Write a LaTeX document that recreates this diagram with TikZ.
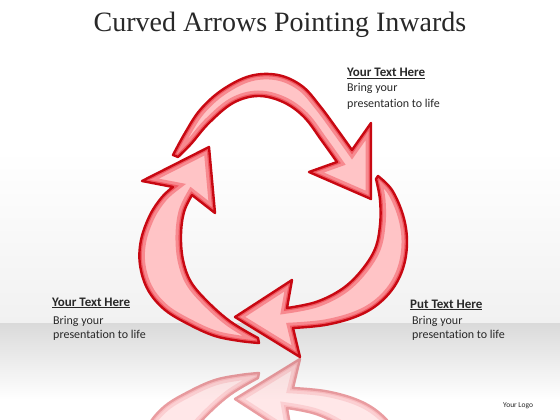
\documentclass[tikz,border=0pt]{standalone}
\usepackage{fontspec}
\setmainfont{Liberation Serif}
\newfontfamily\calfont[Ligatures={NoCommon}]{Carlito}
\definecolor{arrline}{RGB}{200,8,18}
\definecolor{arrfill}{RGB}{255,196,198}
\definecolor{arrglow}{RGB}{236,50,62}
\definecolor{txt}{RGB}{40,40,40}
\definecolor{floortop}{RGB}{218,218,218}
\definecolor{skybottom}{RGB}{241,241,241}
\tikzset{
  glowwide/.style={draw=arrglow, line width=11pt, opacity=0.4},
  glownarrow/.style={draw=arrglow, line width=5pt, opacity=0.55},
  arrborder/.style={draw=arrline, line width=2.4pt, line join=round},
  headtxt/.style={font=\calfont\bfseries\fontsize{13}{15}\selectfont, text=txt, anchor=base west, inner sep=0pt},
  bodytxt/.style={font=\calfont\fontsize{12}{14}\selectfont, text=txt, anchor=base west, inner sep=0pt},
}
\newcommand\redarrow[1]{%
  \begin{scope}
    \clip #1;
    \fill[arrfill] #1;
    \draw[glowwide] #1;
    \draw[glownarrow] #1;
  \end{scope}
  \draw[arrborder] #1;
}
\newcommand\allarrows{%
  \redarrow{plot[smooth, tension=0.6] coordinates {(173,155) (185,133) (200,110) (222,90) (250,76) (278,75) (302,86) (320,106) (337,129) (352,150)} -- (371,123) -- (371,199) -- (309,172) -- plot[smooth, tension=0.6] coordinates {(337,162) (322,141) (304,117) (283,102) (258,96) (233,103) (209,123) (191,144) (178,157)} -- cycle}
  \redarrow{plot[smooth, tension=0.6] coordinates {(378,176) (392,190) (403,215) (407,240) (404,265) (394,287) (377,305) (355,317) (325,325) (293,328)} -- (300,357) -- (235,317) -- (292,280) -- plot[smooth, tension=0.6] coordinates {(287,308) (316,302) (342,289) (361,271) (375,249) (380,225) (380,200) (376,179)} -- cycle}
  \redarrow{plot[smooth, tension=0.6] coordinates {(259,343) (240,341) (215,336) (190,325) (165,310) (148,290) (140,265) (141,240) (150,215) (162,197) (173,187)} -- (142,181) -- (209,147) -- (215,213) -- plot[smooth, tension=0.6] coordinates {(192,195) (184,212) (181,235) (183,260) (191,282) (208,302) (231,322) (258,338)} -- cycle}
}
\begin{document}
\begin{tikzpicture}[x=1pt, y=-1pt]
  \useasboundingbox (0,0) rectangle (560,420);
  % background
  \fill[white] (0,0) rectangle (560,150);
  \shade[top color=white, bottom color=skybottom] (0,150) rectangle (560,323);
  \shade[top color=floortop, bottom color=white] (0,323) rectangle (560,400);
  \fill[white] (0,400) rectangle (560,420);
  % reflection
  \begin{scope}[shift={(0,716)}, yscale=-1, transparency group, opacity=0.4]
    \allarrows
  \end{scope}
  % arrows
  \allarrows
  % title
  \node[font=\fontsize{28}{30}\selectfont, text=txt, anchor=base, inner sep=0pt] (title) at (280,32) {Curved Arrows Pointing Inwards};
  % labels
  \node[headtxt] (h1) at (347,77) {\underline{Your Text Here}};
  \node[bodytxt] (b1a) at (347,92) {Bring your};
  \node[bodytxt] (b1b) at (347,107) {presentation to life};
  \node[headtxt] (h2) at (410,308) {\underline{Put Text Here}};
  \node[bodytxt] (b2a) at (412,324) {Bring your};
  \node[bodytxt] (b2b) at (412,338) {presentation to life};
  \node[headtxt] (h3) at (52,306) {\underline{Your Text Here}};
  \node[bodytxt] (b3a) at (53,324) {Bring your};
  \node[bodytxt] (b3b) at (53,338) {presentation to life};
  \node[font=\calfont\fontsize{7.5}{9}\selectfont, text=txt, anchor=base west, inner sep=0pt] (logo) at (503,407) {Your Logo};
\end{tikzpicture}
\end{document}
